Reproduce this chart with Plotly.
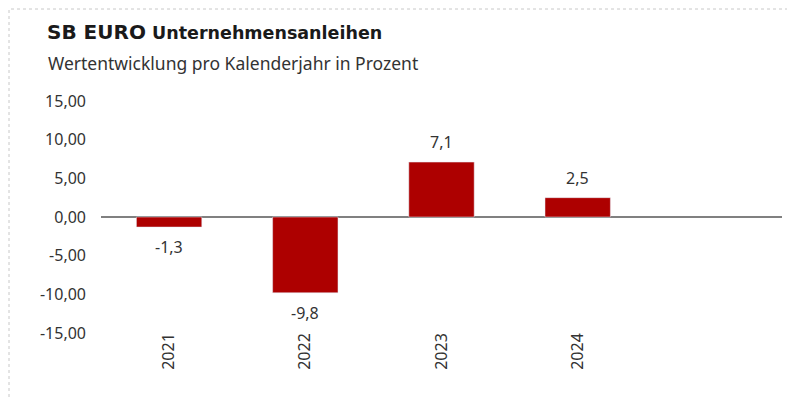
import plotly.graph_objects as go

years = ["2021", "2022", "2023", "2024"]
values = [-1.3, -9.8, 7.1, 2.5]
labels = ["-1,3", "-9,8", "7,1", "2,5"]
y_ticks = [15, 10, 5, 0, -5, -10, -15]
y_tick_labels = ["15,00", "10,00", "5,00", "0,00", "-5,00", "-10,00", "-15,00"]

W, H = 795, 400
OFF = 8  # page body margin
L, R, T, B = 93, 21, 93, 75
pw, ph = W - L - R, H - T - B

def px_x(p):
    return (p - OFF - L) / pw

def px_y(p):
    return (H - B - (p - OFF)) / ph

FONT = "Noto Sans"
TXT = "#333333"

fig = go.Figure()
fig.add_trace(go.Bar(
    x=years, y=values,
    marker_color="#AD0000",
    hoverinfo="skip",
))

annotations = [
    dict(
        x=i, y=v, xref="x", yref="y", text=lab, showarrow=False,
        xanchor="center", yanchor="middle",
        yshift=20 if v >= 0 else -20,
        font=dict(family=FONT, size=16, color=TXT),
    )
    for i, (v, lab) in enumerate(zip(values, labels))
]
annotations += [
    dict(
        xref="paper", yref="paper", x=px_x(45), y=px_y(18),
        xanchor="left", yanchor="top", showarrow=False,
        text="<b><span style='font-size:20px'>SB EURO</span> Unternehmensanleihen</b>",
        font=dict(family="DejaVu Sans", size=17.5, color="#1a1a1a"),
    ),
    dict(
        xref="paper", yref="paper", x=px_x(46), y=px_y(49),
        xanchor="left", yanchor="top", showarrow=False,
        text="Wertentwicklung pro Kalenderjahr in Prozent",
        font=dict(family=FONT, size=17.5, color=TXT),
    ),
]

fig.update_layout(
    width=W, height=H,
    margin=dict(l=L, r=R, t=T, b=B),
    paper_bgcolor="white", plot_bgcolor="white",
    font=dict(family=FONT, size=16, color=TXT),
    separators=",.",
    bargap=0.52,
    showlegend=False,
    xaxis=dict(
        type="category", range=[-0.5, 4.5],
        tickangle=-90, showgrid=False, showline=False, ticks="",
        ticklabelstandoff=-4,
        tickfont=dict(size=16, color=TXT),
    ),
    yaxis=dict(
        range=[-15, 15], tickvals=y_ticks, ticktext=y_tick_labels,
        showgrid=False, zeroline=True, zerolinecolor="#808080", zerolinewidth=2,
        showline=False, ticks="", ticklabelstandoff=14,
        tickfont=dict(size=16, color=TXT),
    ),
    shapes=[dict(
        type="rect", xref="paper", yref="paper",
        x0=px_x(9), x1=px_x(830), y0=px_y(430), y1=px_y(9),
        line=dict(color="#C8C8C8", width=1, dash="dot"),
    )],
    annotations=annotations,
)

fig.write_html("out.html")
